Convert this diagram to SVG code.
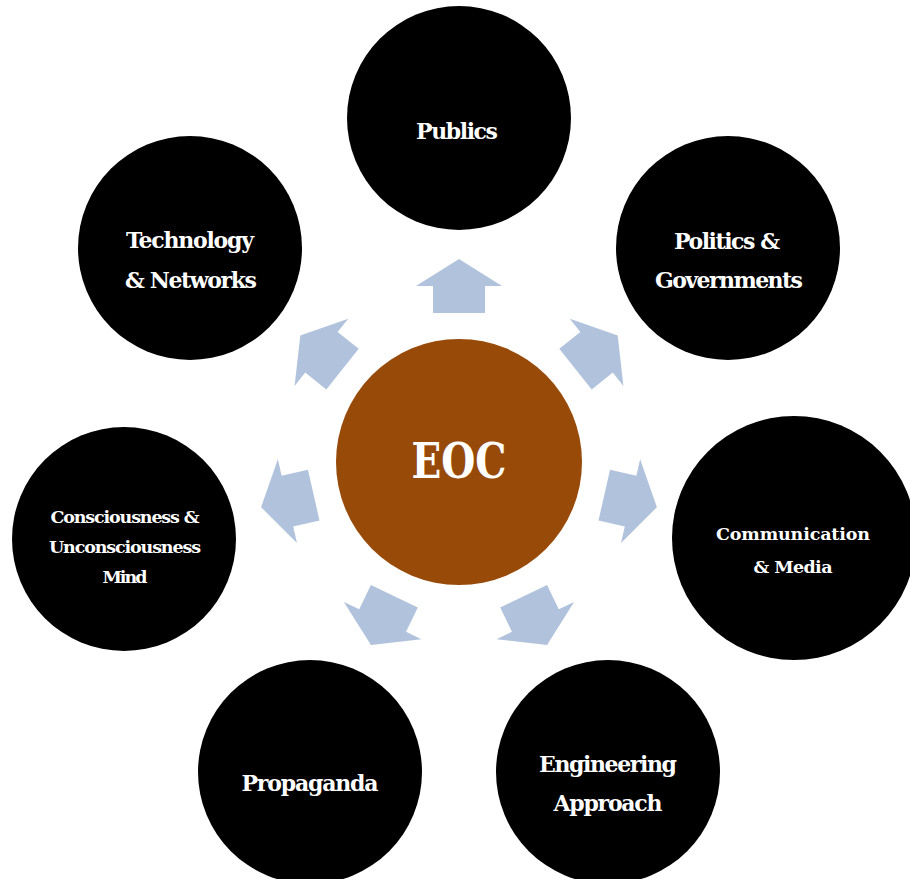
<svg xmlns="http://www.w3.org/2000/svg" width="910" height="879" viewBox="0 0 910 879">
  <style>
    .node { fill: #000000; }
    .hub { fill: #984A09; }
    .lbl { fill: #FFFFFF; font-family: "DejaVu Serif", "Liberation Serif", serif; font-weight: bold; text-anchor: middle; }
    .big { font-size: 22px; }
    .small { font-size: 17.5px; }
    .arrow { fill: #B1C2DD; }
  </style>
  <defs>
    <!-- outward block arrow, pointing up from the hub centre -->
    <path id="blockArrow" d="M0,-203 L43,-176 L26,-176 L26,-149 L-26,-149 L-26,-176 L-43,-176 Z"/>
  </defs>

  <rect width="910" height="879" fill="#FFFFFF"/>

  <g id="connectors" class="arrow" transform="translate(459,462)">
    <use href="#blockArrow" transform="rotate(0)"/>
    <use href="#blockArrow" transform="rotate(51.43)"/>
    <use href="#blockArrow" transform="rotate(102.86)"/>
    <use href="#blockArrow" transform="rotate(154.29)"/>
    <use href="#blockArrow" transform="rotate(205.71)"/>
    <use href="#blockArrow" transform="rotate(257.14)"/>
    <use href="#blockArrow" transform="rotate(308.57)"/>
  </g>

  <g id="eoc">
    <circle class="hub" cx="459" cy="462" r="123"/>
    <text class="lbl" x="459" y="478" font-size="48" textLength="95" lengthAdjust="spacingAndGlyphs">EOC</text>
  </g>

  <g id="publics">
    <circle class="node" cx="459" cy="118" r="112"/>
    <text class="lbl big" x="457" y="139" textLength="82">Publics</text>
  </g>

  <g id="politics">
    <circle class="node" cx="728" cy="248" r="112"/>
    <text class="lbl big" x="727" y="249" textLength="106">Politics &amp;</text>
    <text class="lbl big" x="729" y="288" textLength="148">Governments</text>
  </g>

  <g id="communication">
    <circle class="node" cx="794" cy="538" r="122"/>
    <text class="lbl small" x="793" y="540" textLength="154">Communication</text>
    <text class="lbl small" x="793" y="573" textLength="79">&amp; Media</text>
  </g>

  <g id="engineering">
    <circle class="node" cx="608" cy="772" r="112"/>
    <text class="lbl big" x="608" y="772" textLength="138">Engineering</text>
    <text class="lbl big" x="608" y="811" textLength="109">Approach</text>
  </g>

  <g id="propaganda">
    <circle class="node" cx="310" cy="772" r="112"/>
    <text class="lbl big" x="310" y="791" textLength="137">Propaganda</text>
  </g>

  <g id="consciousness">
    <circle class="node" cx="124" cy="539" r="112"/>
    <text class="lbl small" x="125" y="523" textLength="149">Consciousness &amp;</text>
    <text class="lbl small" x="125" y="553" textLength="152">Unconsciousness</text>
    <text class="lbl small" x="125" y="583" textLength="45">Mind</text>
  </g>

  <g id="technology">
    <circle class="node" cx="190" cy="248" r="112"/>
    <text class="lbl big" x="190" y="248" textLength="128">Technology</text>
    <text class="lbl big" x="191" y="288" textLength="132">&amp; Networks</text>
  </g>
</svg>
